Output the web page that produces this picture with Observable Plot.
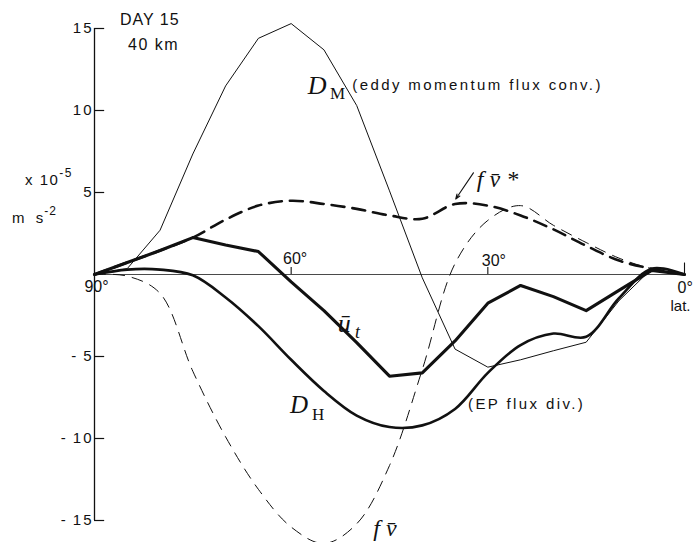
<!DOCTYPE html>
<html>
<head>
<meta charset="utf-8">
<script src="https://cdn.jsdelivr.net/npm/d3@7"></script>
<script src="https://cdn.jsdelivr.net/npm/@observablehq/plot@0.6"></script>
<style>
  body { margin: 0; background: #fff; }
  #chart svg { display: block; }
</style>
</head>
<body>
<div id="chart"></div>
<script>
// Zonal-mean momentum budget, day 15 at 40 km (units of 1e-5 m s^-2), by latitude.
const lat    = [90, 85, 80, 75, 70, 65, 60, 55, 50, 45, 40, 35, 30, 25, 20, 15, 10, 5, 0];
// D_M: eddy momentum flux convergence
const dM     = [0, 0.36, 2.7, 7.35, 11.5, 14.4, 15.3, 13.7, 10.3, 5.1, -0.2, -4.55, -5.65, -5.2, -4.65, -4.13, -1.6, 0.35, 0];
// u_t: zonal-mean wind tendency
const uT     = [0, 0.73, 1.46, 2.25, 1.8, 1.4, -0.45, -2.2, -4.15, -6.2, -6.0, -4.05, -1.75, -0.67, -1.35, -2.2, -0.97, 0.25, 0];
// D_H: EP flux divergence
const dH     = [0, 0.3, 0.3, -0.05, -1.4, -3.15, -5.2, -7.1, -8.6, -9.3, -9.2, -8.2, -6.0, -4.3, -3.6, -3.8, -1.45, 0.35, 0];
// f v*: Coriolis term of the residual circulation
const fvStar = [0, 0.73, 1.46, 2.25, 3.35, 4.2, 4.5, 4.3, 4.0, 3.6, 3.4, 4.3, 4.2, 3.6, 2.75, 1.75, 0.85, 0.35, 0];
// f v: Coriolis term of the Eulerian mean circulation
const fv     = [0, -0.1, -1.15, -5.9, -9.9, -13.1, -15.4, -16.4, -15.2, -11.65, -5.8, 0.67, 3.3, 4.2, 3.0, 1.95, 1.0, 0.35, 0];

const yTicks = [-15, -10, -5, 5, 10, 15];
const latTicks = [60, 30, 0];

const rows = lat.map((l, i) => ({lat: l, dM: dM[i], uT: uT[i], dH: dH[i], fvStar: fvStar[i], fv: fv[i]}));

const ink = "#111";
const sans = "'Liberation Sans', Arial, Helvetica, sans-serif";
const serif = "'Liberation Serif', 'Times New Roman', serif";

const chart = Plot.plot({
  width: 693,
  height: 542,
  marginLeft: 94,
  marginRight: 9,
  marginTop: 28,
  marginBottom: 22,
  x: {domain: [90, 0], axis: null},
  y: {domain: [-15, 15], axis: null},
  style: {fontFamily: sans, color: ink, background: "#fff", overflow: "visible"},
  marks: [
    // axes
    Plot.ruleX([90], {stroke: ink, strokeWidth: 1.3}),
    Plot.ruleY([0], {stroke: ink, strokeWidth: 0.9, strokeOpacity: 0.85}),
    Plot.ruleY(yTicks, {y: d => d, x1: 90, x2: 88.45, stroke: ink, strokeWidth: 1.2}),
    Plot.ruleX(latTicks, {x: d => d, y1: 0, y2: d => (d === 0 ? 0.7 : 0.42), stroke: ink, strokeWidth: 1.1}),
    Plot.axisY(yTicks, {
      tickSize: 0, tickPadding: 1, fontSize: 15, label: null,
      tickFormat: d => (d < 0 ? `-\u2009${-d}` : `${d}`)
    }),
    Plot.text([90], {x: d => d, y: 0, text: d => `${d}°`, dx: 2, dy: 12, fontSize: 16, ariaLabel: "lat-label"}),
    Plot.text([60], {x: d => d, y: 0, text: d => `${d}°`, dx: 4, dy: -16, fontSize: 16, ariaLabel: "lat-label"}),
    Plot.text([30], {x: d => d, y: 0, text: d => `${d}°`, dx: 6, dy: -14, fontSize: 16, ariaLabel: "lat-label"}),
    Plot.text([0], {x: d => d, y: 0, text: d => `${d}°`, textAnchor: "start", dx: -7, dy: 13, fontSize: 16, ariaLabel: "end-label"}),
    Plot.text(["lat."], {x: 0, y: 0, text: d => d, textAnchor: "start", dx: -14, dy: 32, fontSize: 15, ariaLabel: "lat-label"}),

    // curves
    Plot.line(rows, {x: "lat", y: "fv", stroke: ink, strokeWidth: 1, strokeDasharray: "11,8", curve: "catmull-rom"}),
    Plot.line(rows, {x: "lat", y: "fvStar", stroke: ink, strokeWidth: 2.6, strokeDasharray: "13,8", curve: "catmull-rom"}),
    Plot.line(rows, {x: "lat", y: "dM", stroke: ink, strokeWidth: 1, curve: "linear"}),
    Plot.line(rows, {x: "lat", y: "dH", stroke: ink, strokeWidth: 2.6, curve: "catmull-rom", strokeLinejoin: "round"}),
    Plot.line(rows, {x: "lat", y: "uT", stroke: ink, strokeWidth: 3.1, curve: "linear", strokeLinejoin: "round"}),

    // pointer to the f v* curve
    Plot.arrow([{lat1: 32.2, v1: 6.2, lat2: 34.9, v2: 4.6}], {
      x1: "lat1", y1: "v1", x2: "lat2", y2: "v2", stroke: ink, strokeWidth: 1.1, headLength: 7, headAngle: 40
    })
  ]
});

document.getElementById("chart").appendChild(chart);

// letter spacing for the typeset sans labels
d3.select(chart).selectAll('g[aria-label="lat-label"] text').attr("letter-spacing", 2.5);
d3.select(chart).selectAll('g[aria-label="end-label"] text').attr("letter-spacing", 0.5);
d3.select(chart).selectAll('g[aria-label="y-axis tick label"] text').attr("letter-spacing", 2);

const sx = v => chart.scale("x").apply(v);
const sy = v => chart.scale("y").apply(v);
const ann = d3.select(chart).append("g").attr("fill", ink).attr("text-anchor", "start");

function put(x, y, txt, {font = sans, size = 15, italic = false, spacing = 0} = {}) {
  return ann.append("text")
    .attr("x", x).attr("y", y)
    .attr("text-anchor", "start")
    .attr("font-family", font)
    .attr("font-size", size)
    .attr("font-style", italic ? "italic" : "normal")
    .attr("letter-spacing", spacing)
    .attr("xml:space", "preserve")
    .text(txt);
}

// heading
put(120, 25, "DAY 15", {size: 16, spacing: 1});
put(128, 50, "40 km", {size: 16, spacing: 1.5});

// unit label of the value axis
const u1 = put(25, 185, "x 10", {size: 15, spacing: 1.5});
u1.append("tspan").attr("dy", -8).attr("font-size", 12).text("-5");
const u2 = put(12, 223, "m  s", {size: 15, spacing: 1});
u2.append("tspan").attr("dy", -8).attr("font-size", 12).text("-2");

// D_M label
put(sx(57.4), sy(11.0), "D", {font: serif, size: 26, italic: true});
put(sx(54.0), sy(10.65), "M", {font: serif, size: 17});
put(sx(50.6), sy(11.22), "(eddy momentum flux conv.)", {size: 15, spacing: 2.4});

// u_t label
put(sx(52.8), sy(-3.54), "\u016B", {font: serif, size: 26, italic: true});
put(sx(50.2), sy(-3.9), "t", {font: serif, size: 18, italic: true});

// D_H label
put(sx(60.1), sy(-8.48), "D", {font: serif, size: 25, italic: true});
put(sx(56.75), sy(-8.9), "H", {font: serif, size: 17});
put(sx(32.95), sy(-8.23), "(EP flux div.)", {size: 15, spacing: 2.4});

// f v labels
put(sx(31.6), sy(5.3), "f v\u0304 *", {font: serif, size: 24, italic: true});
put(sx(47.4), sy(-15.95), "f v\u0304", {font: serif, size: 24, italic: true});
</script>
</body>
</html>
